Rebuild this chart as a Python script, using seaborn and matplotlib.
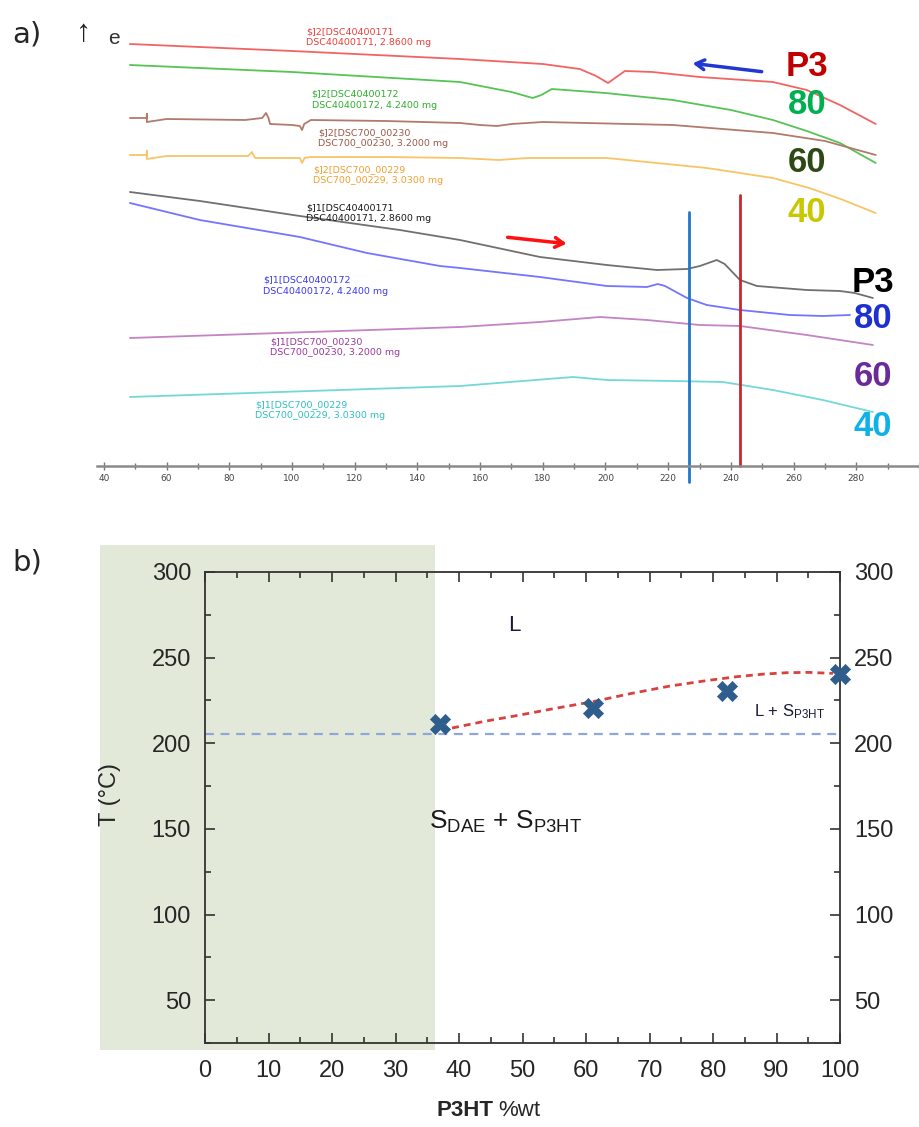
import seaborn as sns
import matplotlib.pyplot as plt
import pandas as pd
import numpy as np
from matplotlib.patches import Rectangle
from matplotlib.ticker import MultipleLocator, FixedLocator

sns.set_style("white")
plt.rcParams["font.family"] = ["Liberation Sans", "DejaVu Sans"]
plt.rcParams["mathtext.fontset"] = "custom"
plt.rcParams["mathtext.rm"] = "Liberation Sans"
plt.rcParams["mathtext.it"] = "Liberation Sans:italic"
plt.rcParams["mathtext.bf"] = "Liberation Sans:bold"

# ---------- a) DSC traces: temperature (°C) vs signal offset (larger = lower)
# cooling runs ($]2)
red_x = [48.3, 100, 153.6, 180, 191.8, 197, 200.8, 203.5, 206.2, 215, 230, 253.4, 264.2, 274.8, 286.2]
red_y = [44, 51, 59, 64, 69, 76, 83, 77, 71, 72, 77, 82, 90, 105, 124]
green_x = [48.3, 100, 153.6, 170, 176.8, 179.5, 182.9, 200, 221.5, 240, 253.4, 264.2, 274.8, 286.2]
green_y = [65, 72, 82, 92, 98, 95, 89, 93, 100, 110, 120, 131, 143, 163]
brown_x = [48.3, 53.7, 53.7, 53.7, 60, 85, 90.5, 91.7, 92.5, 93.0, 100, 102.5, 103.2, 103.9,
           106, 130, 153.6, 160, 165.4, 170, 180, 221.5, 253.4, 270, 286.2]
brown_y = [118, 118, 114, 122, 119, 120, 118, 113, 118, 124, 125, 126, 130, 124,
           120, 121, 123, 125, 126, 124, 122, 125, 133, 141, 155]
orange_x = [48.3, 53.7, 53.7, 53.7, 60, 80, 86, 87.2, 88.2, 90, 100, 102.5, 103.2, 104,
            106, 130, 153.6, 166, 175, 200.4, 232.3, 253.4, 265, 275, 286.2]
orange_y = [155, 155, 151, 159, 156, 156, 156, 152, 158, 158, 158, 158, 163, 158,
            157, 157, 158, 160, 158, 158, 168, 178, 188, 199, 213]
# heating runs ($]1)
black_x = [48.3, 70.6, 102.5, 134.4, 153.6, 179.1, 200.4, 216.4, 226, 230.1, 235.5, 238,
           242.9, 248.3, 264.2, 274.8, 279.5, 285.3]
black_y = [192, 201, 216, 230, 240, 257, 265, 270, 269, 266, 260, 264, 280, 286, 290, 291, 293, 298]
blue_x = [48.3, 70.6, 102.5, 123.9, 147.2, 153.6, 179.1, 200.4, 213.2, 216.7, 219, 226,
          232.3, 242.9, 258.8, 269.3, 278]
blue_y = [203, 220, 237, 253, 266, 268, 277, 286, 287, 284, 286, 298, 305, 310, 315, 316, 315]
purple_x = [48.3, 153.6, 179.1, 198.2, 213.2, 230.1, 242.9, 264.2, 285.3]
purple_y = [338, 327, 322, 317, 320, 325, 326, 335, 345]
cyan_x = [48.3, 153.6, 189.6, 200.4, 221.5, 237.4, 253.4, 269.3, 285.3]
cyan_y = [397, 386, 377, 380, 381, 382, 390, 400, 412]

trace_names = [
    "$]2[DSC40400171\nDSC40400171, 2.8600 mg",
    "$]2[DSC40400172\nDSC40400172, 4.2400 mg",
    "$]2[DSC700_00230\nDSC700_00230, 3.2000 mg",
    "$]2[DSC700_00229\nDSC700_00229, 3.0300 mg",
    "$]1[DSC40400171\nDSC40400171, 2.8600 mg",
    "$]1[DSC40400172\nDSC40400172, 4.2400 mg",
    "$]1[DSC700_00230\nDSC700_00230, 3.2000 mg",
    "$]1[DSC700_00229\nDSC700_00229, 3.0300 mg",
]
name_pos = [(104.4, 27), (106.3, 90), (108.3, 128), (106.7, 165),
            (104.4, 203), (90.7, 276), (93.0, 337), (88.2, 400)]
line_colors = ["#f26464", "#55c455", "#b27a6a", "#f8c466", "#707070", "#7474ff", "#c483c4", "#74d8d8"]
text_colors = ["#e8403a", "#2fae2f", "#9a5a48", "#f0a030", "#1a1a1a", "#3a3af0", "#9a3a9a", "#2fc0c0"]

comp_labels = ["P3", "80", "60", "40"]
comp_colors_cool = ["#c00000", "#00b050", "#2e4a14", "#c8c800"]
comp_colors_heat = ["#000000", "#2030d0", "#6a2a9a", "#10b0e8"]
comp_y_cool = [67, 105, 162, 213]
comp_y_heat = [283, 319, 376, 426]

temp_ticks = [40, 60, 80, 100, 120, 140, 160, 180, 200, 220, 240, 260, 280]

t_onset = 226.5   # blue marker line
t_peak = 243.0    # red marker line

# ---------- b) phase diagram
p3ht_wt = [37.0, 61.1, 82.2, 100.0]
t_melt = [211.2, 220.7, 230.7, 240.4]
liq_x = [38.9, 44, 49.6, 55, 61.1, 67, 73.2, 79, 83.8, 88, 91.6, 95, 98.9]
liq_t = [208.9, 212.8, 216.5, 220.3, 224.3, 229.0, 233.4, 236.6, 238.9, 240.4, 241.2, 241.4, 240.8]
t_eutectic = 205.4

fig = plt.figure(figsize=(9.19, 11.27), dpi=100)
W, H = 919, 1127


def fx(px):
    return px / W


def fy(py):
    return 1 - py / H


# ----- panel a
ax1 = fig.add_axes([fx(97), fy(466), 822 / W, 466 / H])
traces = [(red_x, red_y), (green_x, green_y), (brown_x, brown_y), (orange_x, orange_y),
          (black_x, black_y), (blue_x, blue_y), (purple_x, purple_y), (cyan_x, cyan_y)]
for (xs, ys), lc, tc, name, (tx, ty) in zip(traces, line_colors, text_colors, trace_names, name_pos):
    sns.lineplot(x=xs, y=ys, ax=ax1, color=lc, lw=1.3, sort=False, estimator=None)
    ax1.text(tx, ty, name, color=tc, fontsize=6.8, va="top", ha="left",
             family="DejaVu Sans", linespacing=1.3)

for lab, c, y in zip(comp_labels, comp_colors_cool, comp_y_cool):
    ax1.text(264.2, y, lab, color=c, fontsize=25, fontweight="bold", ha="center", va="center")
for lab, c, y in zip(comp_labels, comp_colors_heat, comp_y_heat):
    ax1.text(285.3, y, lab, color=c, fontsize=25, fontweight="bold", ha="center", va="center")

ax1.plot([t_onset, t_onset], [212, 482], color="#1f78c8", lw=2, clip_on=False)
ax1.plot([t_peak, t_peak], [195, 466], color="#c8282c", lw=2, clip_on=False)

ax1.annotate("", xy=(226.9, 63), xytext=(250.7, 72),
             arrowprops=dict(arrowstyle="->,head_length=0.6,head_width=0.35", color="#2038d0", lw=2.5))
ax1.annotate("", xy=(188.5, 244), xytext=(167.9, 237),
             arrowprops=dict(arrowstyle="->,head_length=0.6,head_width=0.35", color="#ff1010", lw=2.5))

ax1.set_xlim(37.8, 300)
ax1.set_ylim(466, 0)
for s in ["top", "right", "left"]:
    ax1.spines[s].set_visible(False)
ax1.spines["bottom"].set_color("#8a8a8a")
ax1.spines["bottom"].set_linewidth(1.8)
ax1.set_yticks([])
ax1.xaxis.set_major_locator(FixedLocator(temp_ticks))
ax1.xaxis.set_minor_locator(MultipleLocator(10))
ax1.tick_params(axis="x", which="major", direction="inout", length=6, width=1, color="#777",
                labelsize=6.5, labelcolor="#444", pad=3)
ax1.tick_params(axis="x", which="minor", direction="inout", length=4, width=1, color="#777")
ax1.tick_params(axis="x", which="both", bottom=True)
for lab in ax1.get_xticklabels():
    lab.set_family("DejaVu Sans")

fig.text(fx(27), fy(34), "a)", fontsize=21, ha="center", va="center", family="DejaVu Sans")
fig.text(fx(84), fy(33), "\u2191", fontsize=22, ha="center", va="center", color="#222",
         family=["Liberation Sans", "DejaVu Sans"])
fig.text(fx(114), fy(38), "e", fontsize=15, ha="center", va="center", color="#333")

# ----- panel b
ax2 = fig.add_axes([fx(205), fy(1043), 635 / W, 471 / H])
ax2.add_patch(Rectangle((-16.5, 20.8), 52.7, 295, facecolor="#e3e9d9", edgecolor="none",
                        clip_on=False, zorder=0))
ax2.axhline(t_eutectic, color="#8fa6da", lw=1.6, ls=(0, (4, 3)), zorder=1)
sns.lineplot(x=liq_x, y=liq_t, ax=ax2, color="#d9413f", lw=2, sort=False, estimator=None,
             zorder=2)
ax2.lines[-1].set_dashes((2.5, 1.8))
sns.scatterplot(x=p3ht_wt, y=t_melt, ax=ax2, marker="X", s=210, color="#2f5d8c",
                edgecolor="#2f5d8c", linewidth=0.5, zorder=3, clip_on=False)

ax2.text(48.7, 268.5, "L", fontsize=16, color="#1a1a3a", ha="center", va="center")
ax2.text(92.1, 218.2, "L + S$_{\\mathrm{P3HT}}$", fontsize=12, color="#1a1a3a",
         ha="center", va="center")
ax2.text(47.4, 154, "S$_{\\mathrm{DAE}}$ + S$_{\\mathrm{P3HT}}$", fontsize=19, color="#1a1a1a",
         ha="center", va="center")

ax2.set_xlim(0, 100)
ax2.set_ylim(25, 300)
for s in ax2.spines.values():
    s.set_color("#333")
    s.set_linewidth(1.3)
ax2.xaxis.set_major_locator(MultipleLocator(10))
ax2.xaxis.set_minor_locator(MultipleLocator(5))
ax2.set_yticks([50, 100, 150, 200, 250, 300])
ax2.yaxis.set_minor_locator(MultipleLocator(25))
ax2.tick_params(which="both", direction="in", top=True, right=True, bottom=True, left=True,
                labelright=True, color="#333")
ax2.tick_params(which="major", length=7, width=1.2, labelsize=17)
ax2.tick_params(which="minor", length=4, width=1.2)
ax2.tick_params(axis="y", which="major", pad=10)
ax2.tick_params(axis="x", which="major", pad=12)
ax2.set_xlabel("")
ax2.set_ylabel("")

fig.text(fx(110), fy(795), "T (\u00b0C)", fontsize=17, rotation=90, ha="center", va="center")
fig.text(fx(493), fy(1110), "P3HT", fontsize=16, fontweight="bold", ha="right", va="center")
fig.text(fx(498), fy(1110), "%wt", fontsize=16, ha="left", va="center")
fig.text(fx(27), fy(563), "b)", fontsize=21, ha="center", va="center", family="DejaVu Sans")

fig.savefig("out.png", dpi=100)
